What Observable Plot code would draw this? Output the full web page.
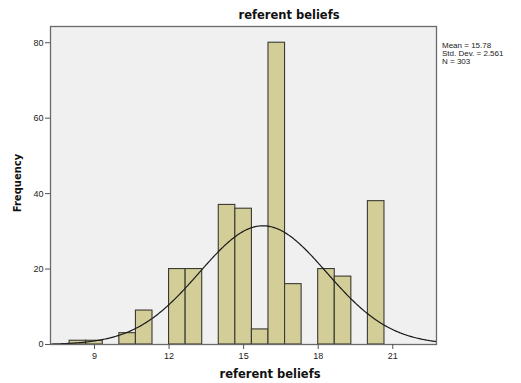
<!DOCTYPE html>
<html>
<head>
<meta charset="utf-8">
<script src="https://cdn.jsdelivr.net/npm/d3@7"></script>
<script src="https://cdn.jsdelivr.net/npm/@observablehq/plot@0.6"></script>
<style>
  html, body { margin: 0; padding: 0; background: #fff; }
  #chart { width: 521px; height: 383px; }
</style>
</head>
<body>
<div id="chart"></div>
<script>
// Histogram of referent beliefs with fitted normal curve
const binStarts = [8, 8.667, 10, 10.667, 12, 12.667, 14, 14.667, 15.333, 16, 16.667, 18, 18.667, 20];
const counts    = [1, 1, 3, 9, 20, 20, 37, 36, 4, 80, 16, 20, 18, 38];
const binWidth = 2 / 3;

const xTicks = [9, 12, 15, 18, 21];
const yTicks = [0, 20, 40, 60, 80];

const stats = { mean: 15.78, sd: 2.561, n: 303 };
const statLines = ["Mean = 15.78", "Std. Dev. = 2.561", "N = 303"];

const titleText = "referent beliefs";
const xLabel = "referent beliefs";
const yLabel = "Frequency";

const xDomain = [7.23, 22.76];
const yDomain = [0, 84.3];

const bins = binStarts.map((lo, i) => ({ x1: lo, x2: lo + binWidth, y: counts[i] }));

// Normal density scaled to counts per bin
const curve = d3.range(xDomain[0], xDomain[1] + 0.001, 0.04).map(x => {
  const z = (x - stats.mean) / stats.sd;
  return { x, y: stats.n * binWidth * Math.exp(-0.5 * z * z) / (stats.sd * Math.sqrt(2 * Math.PI)) };
});

const font = "'Liberation Sans', Arial, sans-serif";
const boldFont = "'DejaVu Sans', Verdana, sans-serif";

const chart = Plot.plot({
  width: 521,
  height: 383,
  marginLeft: 50,
  marginRight: 85,
  marginTop: 26,
  marginBottom: 39,
  style: { fontFamily: font, fontSize: "9px", color: "#222", background: "#fff" },
  x: { domain: xDomain },
  y: { domain: yDomain },
  marks: [
    Plot.frame({ fill: "#f0f0f0" }),
    Plot.rectY(bins, { x1: "x1", x2: "x2", y: "y", fill: "#d3ce97", stroke: "#3a3a32", strokeWidth: 1.1 }),
    Plot.line(curve, { x: "x", y: "y", stroke: "#1a1a1a", strokeWidth: 1.2, clip: true }),
    Plot.frame({ stroke: "#6a6a6a", strokeWidth: 1.3 }),
    Plot.axisY({ ticks: yTicks, tickSize: 5, tickPadding: 2, label: null, stroke: "#555" }),
    Plot.axisX({ ticks: xTicks, tickSize: 5, tickPadding: 3, label: null, stroke: "#555" })
  ]
});

document.getElementById("chart").appendChild(chart);

const svg = d3.select(chart);

svg.append("text")
  .attr("x", 289).attr("y", 19)
  .attr("text-anchor", "middle")
  .style("font", `bold 11.5px ${boldFont}`)
  .attr("fill", "#111")
  .text(titleText);

svg.append("text")
  .attr("x", 270).attr("y", 378)
  .attr("text-anchor", "middle")
  .style("font", `bold 11.5px ${boldFont}`)
  .attr("fill", "#111")
  .text(xLabel);

svg.append("text")
  .attr("transform", "translate(21,183) rotate(-90)")
  .attr("text-anchor", "middle")
  .style("font", `bold 10px ${boldFont}`)
  .attr("fill", "#111")
  .text(yLabel);

svg.append("g")
  .attr("text-anchor", "start")
  .selectAll("text")
  .data(statLines)
  .join("text")
  .attr("x", 442)
  .attr("y", (d, i) => 48 + i * 8)
  .style("font", `8px ${font}`)
  .attr("fill", "#222")
  .text(d => d);
</script>
</body>
</html>
